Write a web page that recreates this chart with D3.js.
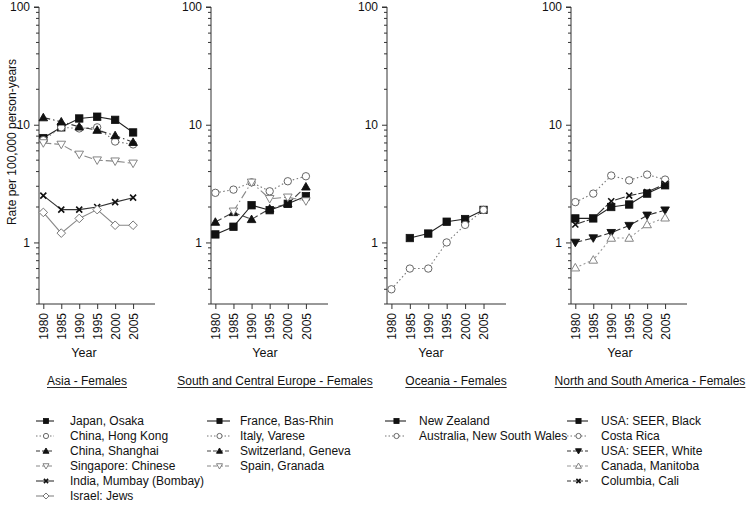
<!DOCTYPE html>
<html><head><meta charset="utf-8">
<script src="https://cdn.jsdelivr.net/npm/d3@7/dist/d3.min.js"></script>
<style>
body{margin:0;background:#fff;}
svg{display:block;font-family:"Liberation Sans",Arial,sans-serif;}
</style></head>
<body><svg id="chart" width="750" height="507"></svg>
<script>
// ---------- DATA ----------
const years = [1980, 1985, 1990, 1995, 2000, 2005];
const yTickValues = [1, 10, 100];
const yTickLabels = ["1", "10", "100"];
const panelTitles = ["Asia - Females", "South and Central Europe - Females", "Oceania - Females", "North and South America - Females"];
const yAxisTitle = "Rate per 100,000 person-years";
const xAxisTitle = "Year";

// Asia
const asiaNames = ["Japan, Osaka", "China, Hong Kong", "China, Shanghai", "Singapore: Chinese", "India, Mumbay (Bombay)", "Israel: Jews"];
const japanOsaka       = [7.7, 9.5, 11.3, 11.7, 11.0, 8.6];
const chinaHongKong    = [7.4, 9.5, 9.3, 9.5, 7.2, 6.8];
const chinaShanghai    = [11.5, 10.6, 9.6, 9.0, 8.1, 7.1];
const singaporeChinese = [7.0, 6.8, 5.6, 5.0, 4.9, 4.7];
const indiaMumbai      = [2.5, 1.9, 1.9, 2.0, 2.2, 2.4];
const israelJews       = [1.8, 1.2, 1.6, 1.9, 1.4, 1.4];

// South and Central Europe
const europeNames = ["France, Bas-Rhin", "Italy, Varese", "Switzerland, Geneva", "Spain, Granada"];
const franceBasRhin    = [1.17, 1.36, 2.07, 1.88, 2.13, 2.47];
const italyVarese      = [2.64, 2.81, 3.24, 2.72, 3.31, 3.65];
const switzGeneva      = [1.49, 1.8, 1.57, 1.93, 2.13, 2.97];
const spainGranada     = [null, 1.84, 3.24, 2.35, 2.42, 2.25];

// Oceania
const oceaniaNames = ["New Zealand", "Australia, New South Wales"];
const newZealand       = [null, 1.09, 1.19, 1.5, 1.58, 1.89];
const australiaNSW     = [0.40, 0.60, 0.60, 1.0, 1.41, 1.89];

// North and South America
const americaNames = ["USA: SEER, Black", "Costa Rica", "USA: SEER, White", "Canada, Manitoba", "Columbia, Cali"];
const seerBlack        = [1.6, 1.6, 2.0, 2.1, 2.6, 3.06];
const costaRica        = [2.2, 2.6, 3.7, 3.37, 3.77, 3.42];
const seerWhite        = [1.0, 1.09, 1.21, 1.39, 1.7, 1.88];
const canadaManitoba   = [0.61, 0.71, 1.09, 1.09, 1.42, 1.62];
const columbiaCali     = [1.42, 1.6, 2.24, 2.5, 2.68, 3.14];

// ---------- STYLES ----------
const ST = {
  sqSolid:   {sym:"square",   fill:"#111", stroke:"#111", line:"#222", dash:null},
  circDot:   {sym:"circle",   fill:"#fff", stroke:"#666", line:"#777", dash:"1.5,2.5"},
  triDash:   {sym:"triUp",    fill:"#111", stroke:"#111", line:"#333", dash:"7,3,1.5,3"},
  triDnGray: {sym:"triDown",  fill:"#fff", stroke:"#777", line:"#888", dash:"8,3"},
  crossLong: {sym:"cross",    fill:"none", stroke:"#111", line:"#333", dash:null},
  diamGray:  {sym:"diamond",  fill:"#fff", stroke:"#777", line:"#888", dash:null},
  triSwiss:  {sym:"triUp",    fill:"#111", stroke:"#111", line:"#444", dash:"7,3"},
  triSpain:  {sym:"triDown",  fill:"#fff", stroke:"#777", line:"#888", dash:"8,3,1.5,3"},
  triDnFill: {sym:"triDown",  fill:"#111", stroke:"#111", line:"#333", dash:"7,3"},
  triUpOpen: {sym:"triUp",    fill:"#fff", stroke:"#777", line:"#999", dash:"2,2.5"},
  crossCali: {sym:"cross",    fill:"none", stroke:"#111", line:"#333", dash:"10,2"}
};

const panels = [
  {x0:39, x1:155, title:panelTitles[0], titleX:87, yearX:84, showYTitle:true,
   legend:{lx0:36, lx1:54, tx:70},
   series:[
    {name:asiaNames[0], v:japanOsaka, s:ST.sqSolid},
    {name:asiaNames[1], v:chinaHongKong, s:ST.circDot},
    {name:asiaNames[2], v:chinaShanghai, s:ST.triDash},
    {name:asiaNames[3], v:singaporeChinese, s:ST.triDnGray},
    {name:asiaNames[4], v:indiaMumbai, s:ST.crossLong},
    {name:asiaNames[5], v:israelJews, s:ST.diamGray}]},
  {x0:211, x1:328, title:panelTitles[1], titleX:275, yearX:265,
   legend:{lx0:207, lx1:230, tx:240},
   series:[
    {name:europeNames[0], v:franceBasRhin, s:ST.sqSolid},
    {name:europeNames[1], v:italyVarese, s:ST.circDot},
    {name:europeNames[2], v:switzGeneva, s:ST.triSwiss},
    {name:europeNames[3], v:spainGranada, s:ST.triSpain}]},
  {x0:387, x1:506, title:panelTitles[2], titleX:456, yearX:431,
   legend:{lx0:385, lx1:406, tx:419},
   series:[
    {name:oceaniaNames[0], v:newZealand, s:ST.sqSolid},
    {name:oceaniaNames[1], v:australiaNSW, s:ST.circDot}]},
  {x0:571, x1:687, title:panelTitles[3], titleX:650, yearX:620,
   legend:{lx0:567, lx1:588, tx:601},
   series:[
    {name:americaNames[0], v:seerBlack, s:ST.sqSolid},
    {name:americaNames[1], v:costaRica, s:ST.circDot},
    {name:americaNames[2], v:seerWhite, s:ST.triDnFill},
    {name:americaNames[3], v:canadaManitoba, s:ST.triUpOpen},
    {name:americaNames[4], v:columbiaCali, s:ST.crossCali}]}
];

const svg = d3.select("#chart");
const yTop = 7, yBot = 304;
const y = d3.scaleLog().domain([0.3, 100]).range([yBot, yTop]);

function drawMarker(g, sym, cx, cy, st, size) {
  const k = size || 1;
  if (sym === "square") {
    g.append("rect").attr("x", cx-3.7*k).attr("y", cy-3.7*k).attr("width", 7.4*k).attr("height", 7.4*k)
      .attr("fill", st.fill).attr("stroke", st.stroke).attr("stroke-width", 0.8);
  } else if (sym === "circle") {
    g.append("circle").attr("cx", cx).attr("cy", cy).attr("r", 3.7*k)
      .attr("fill", st.fill).attr("stroke", st.stroke).attr("stroke-width", 1);
  } else if (sym === "diamond") {
    const r = 4.3*k;
    g.append("path").attr("d", `M${cx},${cy-r}L${cx+r},${cy}L${cx},${cy+r}L${cx-r},${cy}Z`)
      .attr("fill", st.fill).attr("stroke", st.stroke).attr("stroke-width", 1);
  } else if (sym === "triUp" || sym === "triDown") {
    const r = 4.3*k, d = sym === "triUp" ? 1 : -1;
    g.append("path").attr("d", `M${cx},${cy-d*r}L${cx+r},${cy+d*r*0.75}L${cx-r},${cy+d*r*0.75}Z`)
      .attr("fill", st.fill).attr("stroke", st.stroke).attr("stroke-width", 0.9);
  } else if (sym === "cross") {
    const r = 3*k;
    g.append("path").attr("d", `M${cx-r},${cy-r}L${cx+r},${cy+r}M${cx+r},${cy-r}L${cx-r},${cy+r}`)
      .attr("stroke", st.stroke).attr("stroke-width", 1.6).attr("fill", "none");
  }
}

panels.forEach((p, pi) => {
  const x = d3.scaleLinear().domain([1978.8, 2011.1]).range([p.x0, p.x1]);
  const g = svg.append("g");

  // y axis
  const yAxis = d3.axisLeft(y).tickValues(yTickValues).tickFormat((d,i)=>yTickLabels[i]).tickSize(5).tickPadding(4);
  const ga = g.append("g").attr("transform", `translate(${p.x0},0)`).call(yAxis);
  ga.select(".domain").attr("d", `M-5,${yTop}H0V${yBot}`).attr("stroke", "#333");
  ga.selectAll("text").attr("font-size", 12).attr("fill", "#111").attr("font-family", '"Liberation Sans",Arial,sans-serif');
  ga.selectAll(".tick line").attr("stroke", "#333");
  // minor ticks
  const minors = [];
  [0.1, 1, 10].forEach(dec => { for (let m = 2; m <= 9; m++) { const v = dec*m; if (v >= 0.3 && v < 100) minors.push(v); } });
  g.selectAll(null).data(minors).enter().append("line")
    .attr("x1", p.x0-3).attr("x2", p.x0).attr("y1", d=>y(d)).attr("y2", d=>y(d)).attr("stroke", "#333");

  // x axis
  const xAxis = d3.axisBottom(x).tickValues(years).tickFormat(d3.format("d")).tickSize(5).tickPadding(3);
  const gx = g.append("g").attr("transform", `translate(0,${yBot})`).call(xAxis);
  gx.select(".domain").attr("d", `M${p.x0},0H${p.x1}`).attr("stroke", "#333");
  gx.selectAll(".tick line").attr("stroke", "#333");
  gx.selectAll("text").attr("font-size", 12).attr("fill", "#111")
    .attr("transform", "rotate(-90)").attr("text-anchor", "end").attr("dy", "0.35em").attr("y", 0).attr("x", -9)
    .attr("font-family", '"Liberation Sans",Arial,sans-serif');

  g.append("text").attr("x", p.yearX).attr("y", 357).attr("text-anchor", "middle").attr("font-size", 12.5).attr("fill", "#111").text(xAxisTitle);

  // title with underline
  const t = g.append("text").attr("x", p.titleX).attr("y", 385).attr("text-anchor", "middle").attr("font-size", 12).attr("fill", "#111").text(p.title);
  const tw = t.node().getComputedTextLength();
  g.append("line").attr("x1", p.titleX - tw/2).attr("x2", p.titleX + tw/2).attr("y1", 387.5).attr("y2", 387.5).attr("stroke", "#111").attr("stroke-width", 0.9);

  if (p.showYTitle) {
    svg.append("text").attr("transform", "translate(16,142) rotate(-90)").attr("text-anchor", "middle")
      .attr("font-size", 12).attr("fill", "#111").text(yAxisTitle);
  }

  // series
  p.series.forEach(s => {
    const pts = years.map((yr, i) => ({yr, v: s.v[i]})).filter(d => d.v != null);
    const line = d3.line().x(d => x(d.yr)).y(d => y(d.v));
    g.append("path").attr("d", line(pts)).attr("fill", "none").attr("stroke", s.s.line)
      .attr("stroke-width", 1.1).attr("stroke-dasharray", s.s.dash);
  });
  p.series.forEach(s => {
    years.forEach((yr, i) => { if (s.v[i] != null) drawMarker(g, s.s.sym, x(yr), y(s.v[i]), s.s); });
  });

  // legend
  const L = p.legend;
  p.series.forEach((s, i) => {
    const ly = 421 + i*15;
    g.append("line").attr("x1", L.lx0).attr("x2", L.lx1).attr("y1", ly).attr("y2", ly)
      .attr("stroke", s.s.line).attr("stroke-width", 1.1).attr("stroke-dasharray", s.s.dash ? (s.s.dash === "1.5,2.5" ? "1.5,2" : "4,2") : null);
    drawMarker(g, s.s.sym, (L.lx0 + L.lx1)/2 + 1, ly, s.s, 0.7);
    g.append("text").attr("x", L.tx).attr("y", ly).attr("dy", "0.35em").attr("font-size", 12).attr("fill", "#111").text(s.name);
  });
});
</script></body></html>
